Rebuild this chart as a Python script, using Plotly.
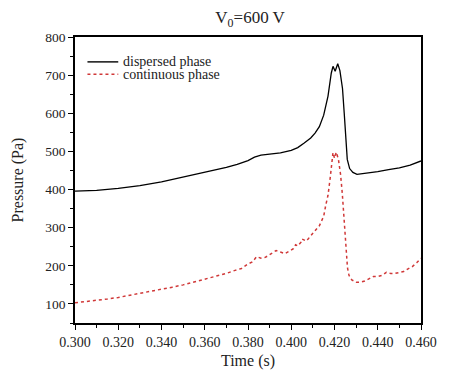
import plotly.graph_objects as go

# dispersed phase (black solid)
t_disp = [0.300, 0.310, 0.320, 0.330, 0.340, 0.350, 0.360, 0.370, 0.375, 0.380,
          0.383, 0.386, 0.390, 0.395, 0.400, 0.403, 0.406, 0.409, 0.411, 0.413,
          0.415, 0.417, 0.4185, 0.4193, 0.4203, 0.4215, 0.4225, 0.4237, 0.4245,
          0.4252, 0.4259, 0.427, 0.4285, 0.4304, 0.435, 0.440, 0.445, 0.450,
          0.455, 0.460]
p_disp = [396, 398, 403, 410, 420, 432, 445, 458, 466, 476,
          485, 490, 493, 496, 503, 510, 522, 535, 548, 565,
          595, 645, 705, 723, 710, 730, 712, 665, 600,
          537, 479, 455, 445, 440, 443, 447, 452, 457,
          464, 475]

# continuous phase (red dotted)
t_cont = [0.300, 0.305, 0.310, 0.315, 0.320, 0.325, 0.330, 0.335, 0.340, 0.345,
          0.350, 0.355, 0.360, 0.365, 0.370, 0.374, 0.377, 0.380, 0.382, 0.384,
          0.386, 0.388, 0.391, 0.393, 0.395, 0.397, 0.399, 0.401, 0.402, 0.403,
          0.4045, 0.405, 0.407, 0.409, 0.411, 0.413, 0.415, 0.416, 0.417, 0.418,
          0.4188, 0.4193, 0.4200, 0.4208, 0.4218, 0.4228, 0.4236, 0.4244, 0.4252,
          0.4260, 0.4267, 0.428, 0.430, 0.432, 0.434, 0.436, 0.438, 0.440, 0.442,
          0.444, 0.446, 0.448, 0.450, 0.452, 0.454, 0.456, 0.458, 0.460]
p_cont = [103, 106, 110, 113, 117, 122, 127, 132, 138, 144,
          150, 157, 164, 172, 180, 188, 193, 205, 210, 224,
          220, 222, 232, 240, 236, 232, 238, 245, 255, 252,
          262, 270, 265, 280, 292, 305, 330, 360, 385, 430,
          470, 497, 482, 498, 480, 440, 390, 320, 255,
          195, 175, 163, 157, 157, 160, 165, 172, 172, 175,
          183, 180, 180, 182, 185, 192, 198, 208, 220]

x_ticks = [0.300, 0.320, 0.340, 0.360, 0.380, 0.400, 0.420, 0.440, 0.460]
y_ticks = [100, 200, 300, 400, 500, 600, 700, 800]

FONT = "Liberation Serif, Times New Roman, serif"
RED = "#d03838"

fig = go.Figure()
fig.add_trace(go.Scatter(x=t_disp, y=p_disp, mode="lines", name="dispersed phase",
                         line=dict(color="black", width=1.3), showlegend=False))
fig.add_trace(go.Scatter(x=t_cont, y=p_cont, mode="lines", name="continuous phase",
                         line=dict(color=RED, width=1.5, dash="dot"), showlegend=False))

# legend drawn manually (compact rows)
legend_rows = [("dispersed phase", "black", "solid", 0.913),
               ("continuous phase", RED, "dot", 0.870)]
for label, col, dash, yy in legend_rows:
    fig.add_shape(type="line", xref="paper", yref="paper", x0=0.036, x1=0.125,
                  y0=yy, y1=yy, line=dict(color=col, width=1.4, dash=dash))
    fig.add_annotation(text=label, xref="paper", yref="paper", x=0.133, y=yy,
                       xanchor="left", yanchor="middle", showarrow=False,
                       font=dict(family=FONT, size=14, color="#222"))

fig.update_layout(
    width=449, height=379,
    margin=dict(l=75, r=14, t=37, b=49),
    paper_bgcolor="white", plot_bgcolor="white",
    font=dict(family=FONT, size=14, color="#222"),
    title=dict(text="V<sub>0</sub>=600 V", x=0.557, xanchor="center",
               y=0.955, yanchor="middle", font=dict(family=FONT, size=17, color="#222")),
)
fig.update_xaxes(range=[0.300, 0.460], tickvals=x_ticks,
                 ticktext=[f"{v:.3f}" for v in x_ticks], ticklabeloverflow="allow",
                 showgrid=False, zeroline=False, showline=True, mirror=True,
                 linecolor="black", linewidth=1.5, ticks="outside", ticklen=5,
                 tickwidth=1.3, tickcolor="black",
                 minor=dict(dtick=0.01, tick0=0.30, ticks="outside", ticklen=3,
                            tickwidth=1.2, tickcolor="black", showgrid=False),
                 title=dict(text="Time (s)", font=dict(family=FONT, size=16), standoff=6),
                 tickfont=dict(family=FONT, size=14))
fig.update_yaxes(range=[50, 800], tickvals=y_ticks,
                 showgrid=False, zeroline=False, showline=True, mirror=True,
                 linecolor="black", linewidth=1.5, ticks="outside", ticklen=5,
                 tickwidth=1.3, tickcolor="black",
                 minor=dict(dtick=50, tick0=50, ticks="outside", ticklen=3,
                            tickwidth=1.2, tickcolor="black", showgrid=False),
                 title=dict(text="Pressure (Pa)", font=dict(family=FONT, size=16), standoff=18),
                 tickfont=dict(family=FONT, size=13.5))

fig.write_html("out.html",
               config={"displayModeBar": False, "responsive": False},
               post_script="document.body.style.margin='0';"
                           "document.body.style.overflow='hidden';"
                           "document.documentElement.style.overflow='hidden';"
                           "var g=document.querySelector('.plotly-graph-div');"
                           "g.style.overflow='hidden';g.style.width='449px';g.style.height='379px';")
